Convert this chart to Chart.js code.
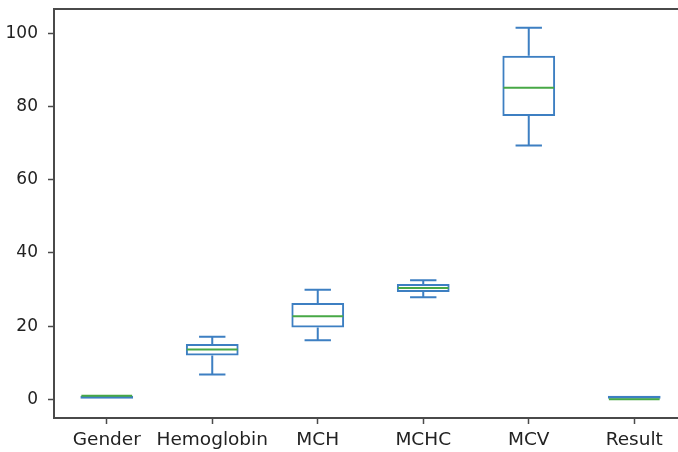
<!DOCTYPE html>
<html>
<head>
<meta charset="utf-8">
<script src="https://cdn.jsdelivr.net/npm/chart.js@4.4.1/dist/chart.umd.min.js"></script>
<style>
  html, body { margin: 0; padding: 0; background: #fff; overflow: hidden; }
  #wrap { width: 690px; height: 452px; }
</style>
</head>
<body>
<div id="wrap"><canvas id="myChart" width="690" height="452"></canvas></div>
<script>
// box plot stats
const labels = ['Gender', 'Hemoglobin', 'MCH', 'MCHC', 'MCV', 'Result']
const whiskerLow = [0, 6.8, 16.1, 27.9, 69.3, 0]
const q1 = [0, 12.0, 19.6, 29.3, 77.4, 0]
const median = [1, 13.6, 22.7, 30.4, 85.1, 0]
const q3 = [1, 15.1, 26.3, 31.5, 93.8, 1]
const whiskerHigh = [1, 17.1, 29.9, 32.5, 101.5, 1]
const yTicks = [0, 20, 40, 60, 80, 100]

const boxColor = '#3d7fc2'
const medianColor = '#47a846'
const axisColor = '#4a4a4a'
const textColor = '#222'

// whiskers, caps, medians and the frame drawn on top of the floating bars
const boxExtras = {
  id: 'boxExtras',
  afterDatasetsDraw(chart) {
    const ctx = chart.ctx
    const y = chart.scales.y
    const meta = chart.getDatasetMeta(0)
    ctx.save()
    meta.data.forEach((bar, i) => {
      const cx = bar.x
      const half = bar.width / 2
      const cap = half / 2
      ctx.lineWidth = 2
      ctx.strokeStyle = boxColor
      ctx.beginPath()
      if (whiskerHigh[i] > q3[i]) {
        ctx.moveTo(cx, y.getPixelForValue(q3[i]))
        ctx.lineTo(cx, y.getPixelForValue(whiskerHigh[i]))
        ctx.moveTo(cx - cap, y.getPixelForValue(whiskerHigh[i]))
        ctx.lineTo(cx + cap, y.getPixelForValue(whiskerHigh[i]))
      }
      if (whiskerLow[i] < q1[i]) {
        ctx.moveTo(cx, y.getPixelForValue(q1[i]))
        ctx.lineTo(cx, y.getPixelForValue(whiskerLow[i]))
        ctx.moveTo(cx - cap, y.getPixelForValue(whiskerLow[i]))
        ctx.lineTo(cx + cap, y.getPixelForValue(whiskerLow[i]))
      }
      ctx.stroke()
      // median
      ctx.strokeStyle = medianColor
      ctx.beginPath()
      ctx.moveTo(cx - half + 1, y.getPixelForValue(median[i]))
      ctx.lineTo(cx + half - 1, y.getPixelForValue(median[i]))
      ctx.stroke()
    })
    // frame
    const a = chart.chartArea
    ctx.strokeStyle = axisColor
    ctx.lineWidth = 2
    ctx.strokeRect(a.left, a.top, a.right - a.left, a.bottom - a.top)
    ctx.restore()
  }
}

new Chart('myChart', {
  type: 'bar',
  data: {
    labels: labels,
    datasets: [{
      data: labels.map((l, i) => [q1[i], q3[i]]),
      backgroundColor: 'rgba(0,0,0,0)',
      borderColor: boxColor,
      borderWidth: 2,
      borderSkipped: false,
      categoryPercentage: 1,
      barPercentage: 0.5
    }]
  },
  options: {
    responsive: false,
    animation: false,
    layout: { padding: { left: 0, top: 9, right: 3, bottom: 0 } },
    plugins: { legend: { display: false }, tooltip: { enabled: false } },
    scales: {
      x: {
        grid: { offset: false, drawOnChartArea: false, drawTicks: true, tickLength: 6, tickColor: axisColor, tickWidth: 1.5 },
        border: { display: false },
        ticks: { color: textColor, font: { family: 'DejaVu Sans', size: 18.5 }, padding: 5, maxRotation: 0, autoSkip: false },
        afterFit: s => { s.height = 34; s.paddingLeft = 0; s.paddingRight = 0 }
      },
      y: {
        min: -5.1,
        max: 106.6,
        afterBuildTicks: s => { s.ticks = yTicks.map(v => ({ value: v })) },
        grid: { drawOnChartArea: false, drawTicks: true, tickLength: 6, tickColor: axisColor, tickWidth: 1.5 },
        border: { display: false },
        ticks: { color: textColor, font: { family: 'DejaVu Sans', size: 17 }, padding: 10 },
        afterFit: s => { s.width = 54; s.paddingTop = 0; s.paddingBottom = 0 }
      }
    }
  },
  plugins: [boxExtras]
})
</script>
</body>
</html>
